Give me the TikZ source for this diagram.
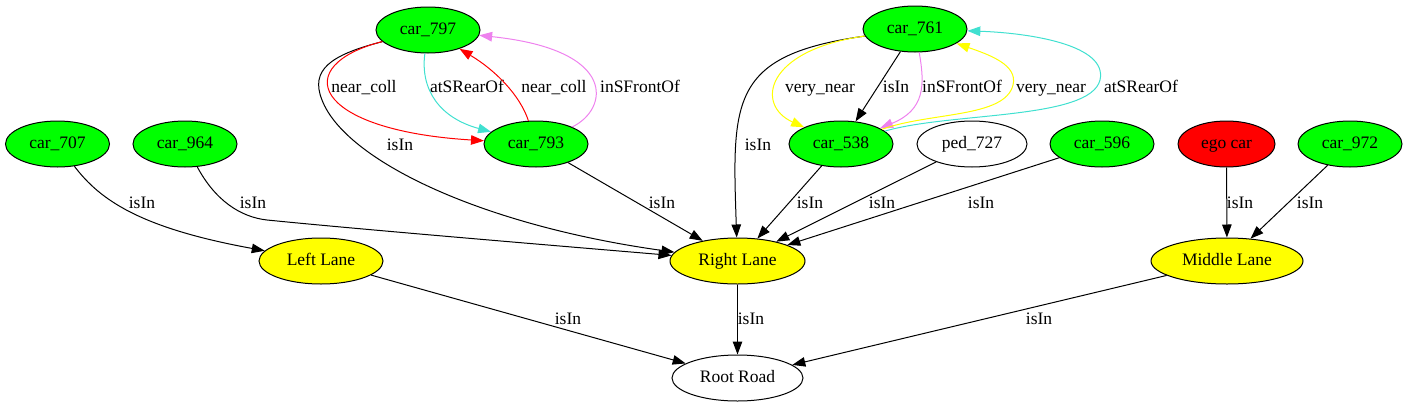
\documentclass[tikz,border=0pt]{standalone}
\usepackage{fontspec}
\setmainfont{Liberation Serif}
\usetikzlibrary{arrows.meta,shapes.geometric}
\definecolor{gvgreen}{HTML}{00FF00}
\definecolor{gvyellow}{HTML}{FFFF00}
\definecolor{gvred}{HTML}{FF0000}
\definecolor{gvturq}{HTML}{40E0D0}
\definecolor{gvviolet}{HTML}{EE82EE}
\begin{document}
\begin{tikzpicture}[x=1pt,y=-1pt,
  every node/.style={font=\fontsize{17.5}{20}\selectfont},
  gnode/.style={ellipse, draw, line width=1pt, minimum height=46pt, inner sep=0pt, text height=12.5pt, text depth=4pt},
  car/.style={gnode, fill=gvgreen, minimum width=104pt},
  lane/.style={gnode, fill=gvyellow},
  rel/.style={line width=1pt, -{Triangle[length=13pt,width=9.5pt]}},
  lbl/.style={anchor=base, inner sep=0pt}
]
\useasboundingbox (0,0) rectangle (1408,407);

% nodes
\node[car] (n797) at (428,30) {car\_797};
\node[car] (n761) at (915,29) {car\_761};
\node[car] (n707) at (57.5,144) {car\_707};
\node[car] (n964) at (185,144) {car\_964};
\node[car] (n793) at (536,144) {car\_793};
\node[car] (n538) at (841,144) {car\_538};
\node[gnode, minimum width=110pt] (p727) at (972,144) {ped\_727};
\node[car] (n596) at (1102,144) {car\_596};
\node[gnode, fill=gvred, minimum width=97pt] (ego) at (1226.5,144) {ego car};
\node[car] (n972) at (1350,144) {car\_972};
\node[lane, minimum width=124pt] (nLL) at (321,261) {Left Lane};
\node[lane, minimum width=135pt] (nRL) at (737.5,261) {Right Lane};
\node[lane, minimum width=152pt] (nML) at (1227,261) {Middle Lane};
\node[gnode, minimum width=131pt] (root) at (737.5,378) {Root Road};

% car_797 / car_793
\draw[rel] (n797) .. controls (330,55) and (310,70) .. (322,100) .. controls (345,160) and (480,225) .. (nRL)
  node[lbl, at={(400,150)}] (t1) {isIn};
\draw[rel, gvred] (n797) .. controls (290,65) and (310,130) .. (n793)
  node[lbl, text=black, at={(364,92)}] (t2) {near\_coll};
\draw[rel, gvturq] (n797) .. controls (420,90) and (440,118) .. (n793)
  node[lbl, text=black, at={(467,92)}] (t3) {atSRearOf};
\draw[rel, gvred] (n793) .. controls (520,95) and (495,70) .. (n797)
  node[lbl, text=black, at={(554,92)}] (t4) {near\_coll};
\draw[rel, gvviolet] (n793) .. controls (608,110) and (620,50) .. (n797)
  node[lbl, text=black, at={(640,92)}] (t5) {inSFrontOf};
\draw[rel] (n793) -- (nRL) node[lbl, at={(662,208)}] (t6) {isIn};

% left cars
\draw[rel] (n964) .. controls (215,200) and (240,217) .. (267,220) .. controls (367,230) and (560,246) .. (nRL)
  node[lbl, at={(253,208)}] (t7) {isIn};
\draw[rel] (n707) .. controls (100,200) and (140,228) .. (nLL)
  node[lbl, at={(142,208)}] (t8) {isIn};

% car_761 / car_538
\draw[rel] (n761) .. controls (730,55) and (732,100) .. (nRL)
  node[lbl, at={(758,150)}] (t9) {isIn};
\draw[rel, gvyellow] (n761) .. controls (765,50) and (755,105) .. (n538)
  node[lbl, text=black, at={(820,92)}] (t10) {very\_near};
\draw[rel] (n761) -- (n538) node[lbl, at={(896,92)}] (t11) {isIn};
\draw[rel, gvviolet] (n761) .. controls (925,85) and (925,110) .. (n538)
  node[lbl, text=black, at={(962,92)}] (t12) {inSFrontOf};
\draw[rel, gvyellow] (n538) .. controls (930,112) and (1005,118) .. (1013,85) .. controls (1018,65) and (990,55) .. (n761)
  node[lbl, text=black, at={(1051,92)}] (t13) {very\_near};
\draw[rel, gvturq] (n538) .. controls (950,112) and (1090,120) .. (1100,80) .. controls (1108,45) and (1030,33) .. (n761)
  node[lbl, text=black, at={(1141,92)}] (t14) {atSRearOf};

% to Right Lane
\draw[rel] (n538) -- (nRL) node[lbl, at={(810,208)}] (t15) {isIn};
\draw[rel] (p727) -- (nRL) node[lbl, at={(882,208)}] (t16) {isIn};
\draw[rel] (n596) -- (nRL) node[lbl, at={(981,208)}] (t17) {isIn};

% to Middle Lane
\draw[rel] (ego) -- (nML) node[lbl, at={(1240,208)}] (t18) {isIn};
\draw[rel] (n972) -- (nML) node[lbl, at={(1310,208)}] (t19) {isIn};

% to Root Road
\draw[rel] (nLL) -- (root) node[lbl, at={(568,324)}] (t20) {isIn};
\draw[rel] (nRL) -- (root) node[lbl, at={(751,324)}] (t21) {isIn};
\draw[rel] (nML) -- (root) node[lbl, at={(1039,324)}] (t22) {isIn};
\end{tikzpicture}
\end{document}
